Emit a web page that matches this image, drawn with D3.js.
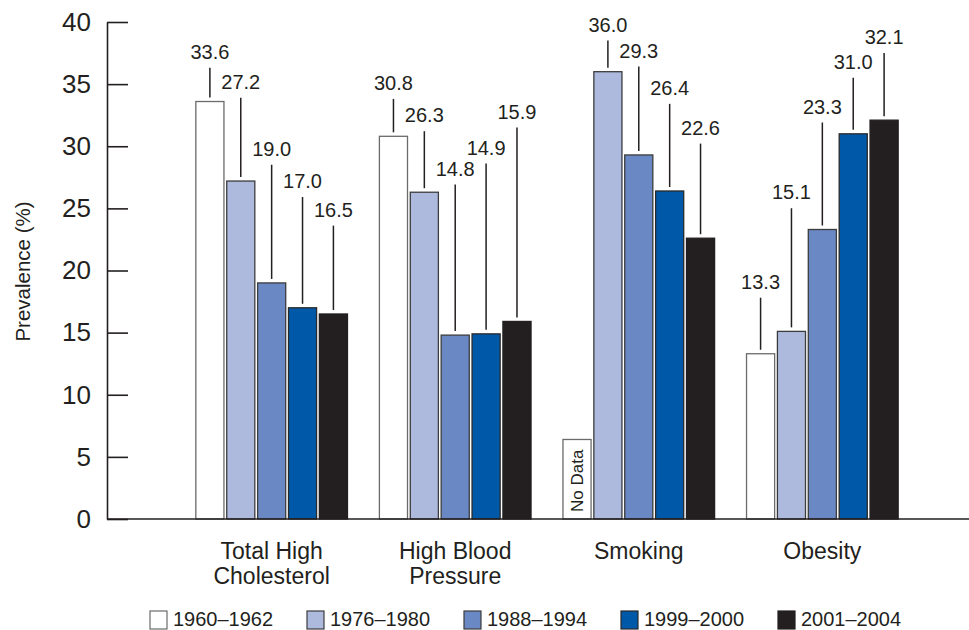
<!DOCTYPE html>
<html>
<head>
<meta charset="utf-8">
<script src="https://cdn.jsdelivr.net/npm/d3@7"></script>
<style>
  html, body { margin: 0; padding: 0; background: #fff; }
  svg { display: block; font-family: "Liberation Sans", Arial, Helvetica, sans-serif; }
</style>
</head>
<body>
<svg id="chart" width="969" height="630"></svg>
<script>
// ---- data ----
const categories = ["Total High Cholesterol", "High Blood Pressure", "Smoking", "Obesity"];
const categoryLines = [["Total High", "Cholesterol"], ["High Blood", "Pressure"], ["Smoking"], ["Obesity"]];
const periods = ["1960–1962", "1976–1980", "1988–1994", "1999–2000", "2001–2004"];
const values1960 = [33.6, 30.8, null, 13.3];
const values1976 = [27.2, 26.3, 36.0, 15.1];
const values1988 = [19.0, 14.8, 29.3, 23.3];
const values1999 = [17.0, 14.9, 26.4, 31.0];
const values2001 = [16.5, 15.9, 22.6, 32.1];
// level (in % axis units) at which each value label sits
const labelLevel1960 = [37.6, 35.1, null, 19.1];
const labelLevel1976 = [35.2, 32.5, 39.8, 26.3];
const labelLevel1988 = [29.8, 28.2, 37.7, 33.2];
const labelLevel1999 = [27.2, 29.9, 34.7, 36.8];
const labelLevel2001 = [24.9, 32.8, 31.5, 38.8];
const noDataLevel = 6.4;
const noDataText = "No Data";
const yTicks = [0, 5, 10, 15, 20, 25, 30, 35, 40];
const yTitle = "Prevalence (%)";
const colors = ["#ffffff", "#adbade", "#6a88c3", "#0059a8", "#231f20"];
const strokes = ["#6b6b6b", "#3c3c3c", "#3c3c3c", "#2a2a2a", "#231f20"];

const seriesValues = [values1960, values1976, values1988, values1999, values2001];
const seriesLabels = [labelLevel1960, labelLevel1976, labelLevel1988, labelLevel1999, labelLevel2001];

// ---- layout ----
const svg = d3.select("#chart");
const axisX = 107, yTop = 22, yBottom = 519, baselineEnd = 969;

const y = d3.scaleLinear().domain([0, 40]).range([yBottom, yTop]);
const x0 = d3.scaleBand().domain(categories).range([107, 987]).paddingInner(0.174).paddingOuter(0.484);
const x1 = d3.scaleBand().domain(periods).range([0, x0.bandwidth()]).paddingInner(0.09);

const rows = [];
categories.forEach((c, ci) => {
  periods.forEach((p, pi) => {
    rows.push({ cat: c, ci, period: p, pi, value: seriesValues[pi][ci], label: seriesLabels[pi][ci] });
  });
});

// bars
const g = svg.append("g");
g.selectAll("rect.bar")
  .data(rows)
  .join("rect")
  .attr("class", "bar")
  .attr("x", d => x0(d.cat) + x1(d.period))
  .attr("width", x1.bandwidth())
  .attr("y", d => y(d.value == null ? noDataLevel : d.value))
  .attr("height", d => y(0) - y(d.value == null ? noDataLevel : d.value))
  .attr("fill", d => colors[d.pi])
  .attr("stroke", d => strokes[d.pi])
  .attr("stroke-width", 1.3);

// no data text
g.selectAll("text.nodata")
  .data(rows.filter(d => d.value == null))
  .join("text")
  .attr("class", "nodata")
  .attr("transform", d => `translate(${x0(d.cat) + x1(d.period) + x1.bandwidth() / 2 + 6},${y(0) - 7}) rotate(-90)`)
  .attr("font-size", 17)
  .attr("fill", "#231f20")
  .text(noDataText);

// leader lines
const labeled = rows.filter(d => d.value != null);
g.selectAll("line.leader")
  .data(labeled)
  .join("line")
  .attr("class", "leader")
  .attr("x1", d => x0(d.cat) + x1(d.period) + x1.bandwidth() / 2)
  .attr("x2", d => x0(d.cat) + x1(d.period) + x1.bandwidth() / 2)
  .attr("y1", d => y(d.label) + 16)
  .attr("y2", d => y(d.value) - 4)
  .attr("stroke", "#231f20")
  .attr("stroke-width", 1.5);

// value labels
g.selectAll("text.val")
  .data(labeled)
  .join("text")
  .attr("class", "val")
  .attr("x", d => x0(d.cat) + x1(d.period) + x1.bandwidth() / 2)
  .attr("y", d => y(d.label))
  .attr("dy", "0.36em")
  .attr("text-anchor", "middle")
  .attr("font-size", 20)
  .attr("fill", "#231f20")
  .text(d => d.value.toFixed(1));

// y axis
const yAxis = d3.axisLeft(y).tickValues(yTicks).tickSizeInner(-21).tickSizeOuter(0).tickPadding(16);
const ax = svg.append("g").attr("transform", `translate(${axisX},0)`).call(yAxis);
ax.select(".domain").attr("stroke", "#231f20").attr("stroke-width", 1.6);
ax.selectAll(".tick line").attr("stroke", "#231f20").attr("stroke-width", 1.6);
ax.selectAll(".tick text").attr("font-size", 26).attr("fill", "#231f20")
  .attr("font-family", "'Liberation Sans', Arial, sans-serif");

// baseline
svg.append("line")
  .attr("x1", axisX).attr("x2", baselineEnd)
  .attr("y1", y(0)).attr("y2", y(0))
  .attr("stroke", "#231f20").attr("stroke-width", 1.6);

// y title
svg.append("text")
  .attr("transform", `translate(23,${(yTop + yBottom) / 2 + 1}) rotate(-90)`)
  .attr("text-anchor", "middle")
  .attr("dy", "0.36em")
  .attr("font-size", 20.5)
  .attr("fill", "#231f20")
  .text(yTitle);

// category labels
const catG = svg.append("g");
categories.forEach((c, ci) => {
  const t = catG.append("text")
    .attr("x", x0(c) + x0.bandwidth() / 2)
    .attr("y", 559)
    .attr("text-anchor", "middle")
    .attr("font-size", 23)
    .attr("fill", "#231f20");
  categoryLines[ci].forEach((line, li) => {
    t.append("tspan").attr("x", x0(c) + x0.bandwidth() / 2).attr("dy", li === 0 ? 0 : 25).text(line);
  });
});

// legend
const legendX = d3.scaleBand().domain(periods).range([150, 935]);
const leg = svg.append("g");
const item = leg.selectAll("g").data(periods).join("g")
  .attr("transform", d => `translate(${legendX(d)},611)`);
item.append("rect")
  .attr("width", 17).attr("height", 18)
  .attr("fill", (d, i) => colors[i])
  .attr("stroke", (d, i) => strokes[i])
  .attr("stroke-width", 1.2);
item.append("text")
  .attr("x", 23).attr("y", 14.5)
  .attr("font-size", 20)
  .attr("fill", "#231f20")
  .text(d => d);
</script>
</body>
</html>
